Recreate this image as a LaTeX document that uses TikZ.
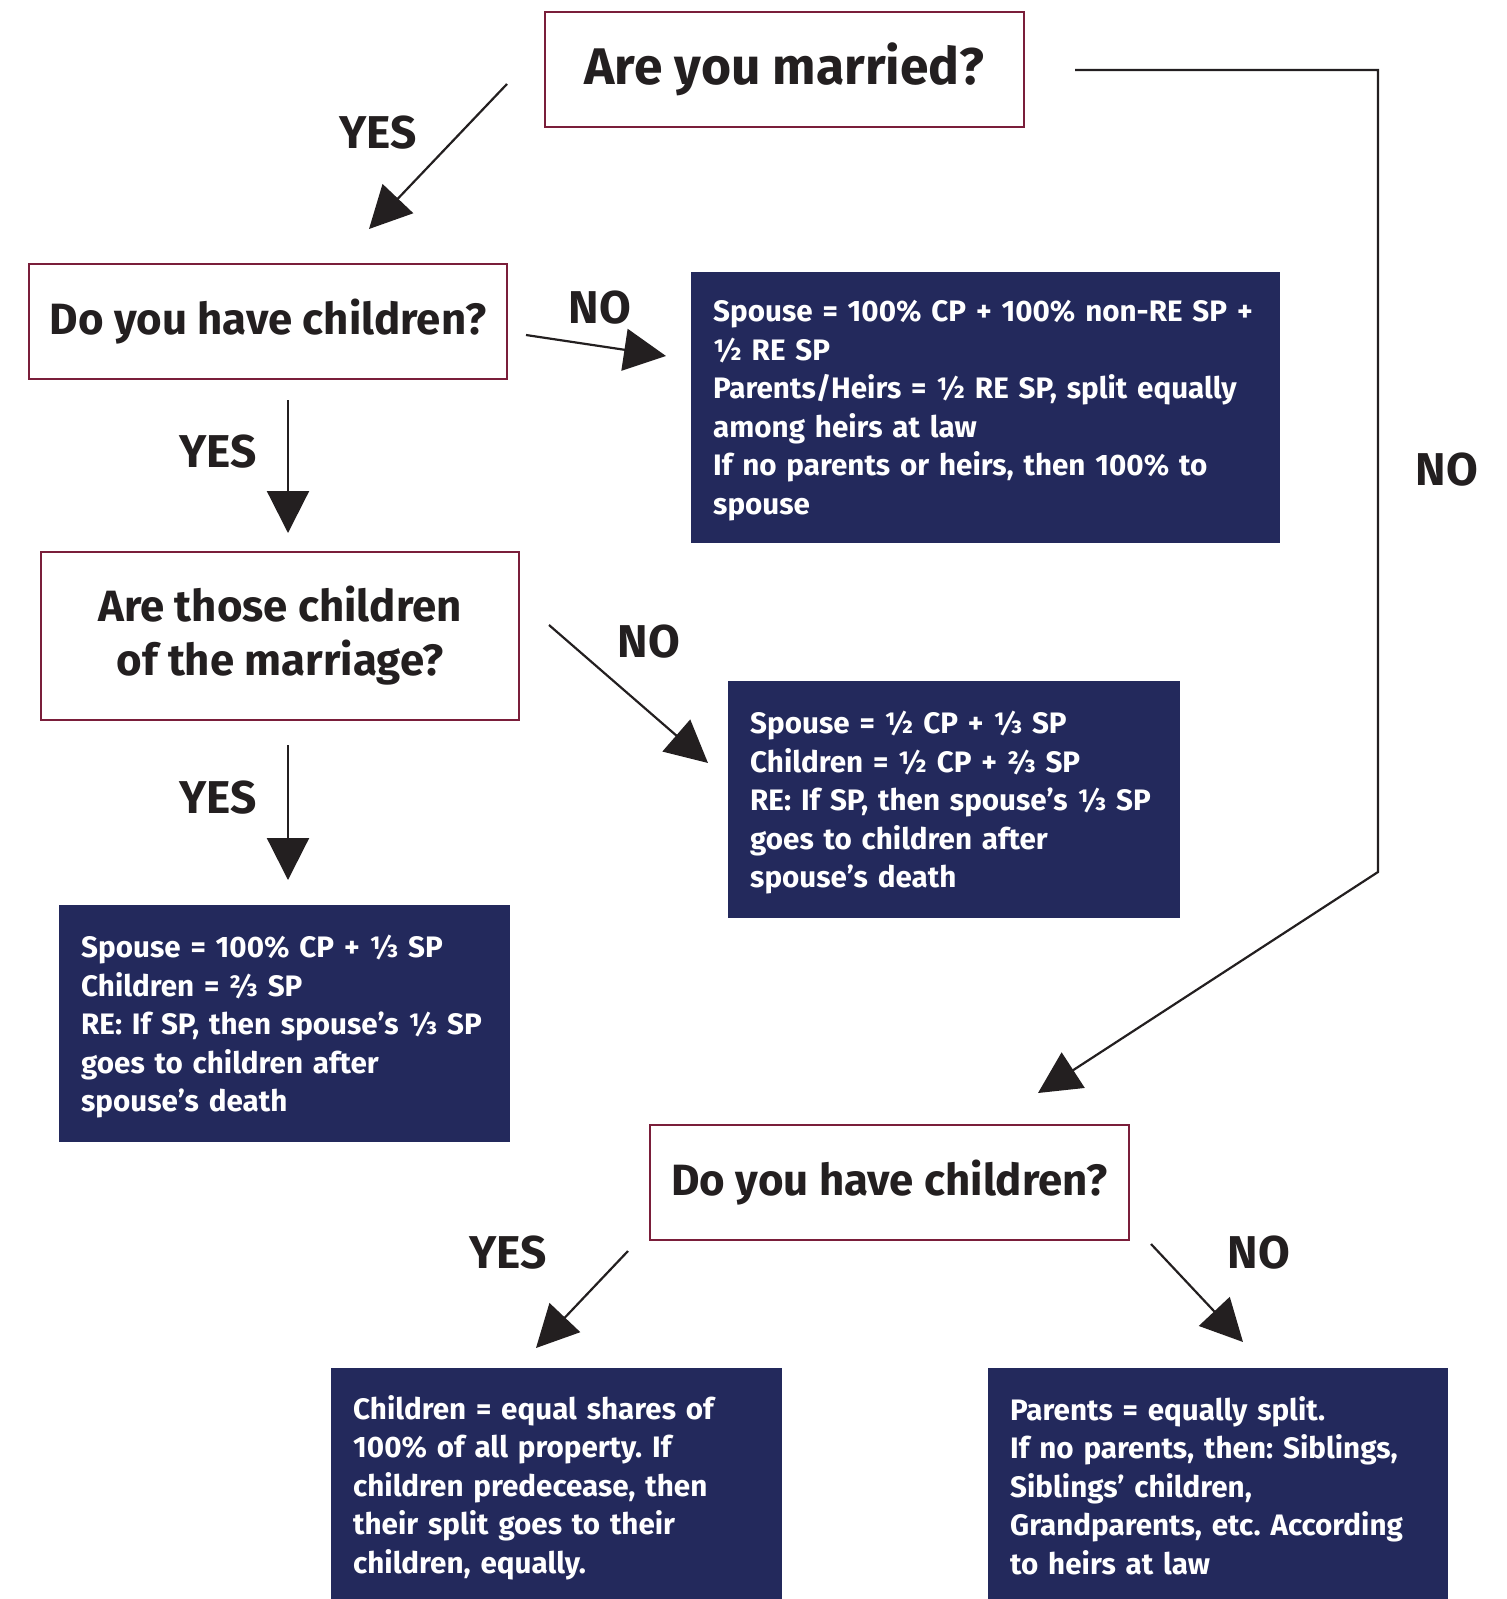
\documentclass[tikz,border=0pt]{standalone}
\usepackage{fontspec}
\setmainfont{Fira Sans}
\usetikzlibrary{arrows.meta,calc}
\definecolor{navy}{RGB}{35,41,92}
\definecolor{maroon}{RGB}{122,30,58}
\definecolor{ink}{RGB}{35,31,32}
\frenchspacing
\begin{document}
\begin{tikzpicture}[x=1pt,y=-1pt,
  qbox/.style={draw=maroon,line width=2.5pt,inner sep=0pt,align=center,text=ink,
    font=\fontsize{43.8}{54}\selectfont\bfseries},
  abox/.style={fill=navy,inner sep=0pt,anchor=north west},
  atext/.style={text=white,inner sep=0pt,align=left,
    font=\fontsize{29.6}{38.5}\selectfont\bfseries},
  lbl/.style={text=ink,font=\fontsize{46}{46}\selectfont\bfseries},
  arr/.style={draw=ink,line width=2.2pt,-{Triangle[length=42pt,width=42pt]}}]
\useasboundingbox (0,0) rectangle (1507,1599);
% question boxes
\node[qbox,minimum width=479pt,minimum height=115pt,font=\fontsize{51.5}{54}\selectfont\bfseries] (q1) at (784.5,69.5) {Are you married?};
\node[qbox,minimum width=478pt,minimum height=115pt] (q2) at (268,321.5) {Do you have children?};
\node[qbox,minimum width=478pt,minimum height=168pt] (q3) at (280,636) {Are those children\\of the marriage?};
\node[qbox,minimum width=479pt,minimum height=115pt] (q4) at (889.5,1182.5) {Do you have children?};
% answer boxes
\node[abox,minimum width=589pt,minimum height=271pt] (a) at (691,272) {};
\node[abox,minimum width=452pt,minimum height=237pt] (b) at (728,681) {};
\node[abox,minimum width=451pt,minimum height=237pt] (c) at (59,905) {};
\node[abox,minimum width=451pt,minimum height=233pt] (d) at (331,1368) {};
\node[abox,minimum width=460pt,minimum height=233pt] (e) at (988,1368) {};
\node[atext,text width=545pt] (ta) at ($(a.center)+(0,3)$) {Spouse = 100\% CP + 100\% non-RE SP +\\½ RE SP\\Parents/Heirs = ½ RE SP, split equally\\among heirs at law\\If no parents or heirs, then 100\% to\\spouse};
\node[atext,text width=408pt] (tb) at ($(b.center)+(0,3)$) {Spouse = ½ CP + ⅓ SP\\Children = ½ CP + ⅔ SP\\RE: If SP, then spouse’s ⅓ SP\\goes to children after\\spouse’s death};
\node[atext,text width=407pt] (tc) at ($(c.center)+(0,3)$) {Spouse = 100\% CP + ⅓ SP\\Children = ⅔ SP\\RE: If SP, then spouse’s ⅓ SP\\goes to children after\\spouse’s death};
\node[atext,text width=407pt] (td) at ($(d.center)+(0,3)$) {Children = equal shares of\\100\% of all property. If\\children predecease, then\\their split goes to their\\children, equally.};
\node[atext,text width=416pt] (te) at ($(e.center)+(0,1)$) {Parents = equally split.\\If no parents, then: Siblings,\\Siblings’ children,\\Grandparents, etc. According\\to heirs at law};
% connector end points
\coordinate (s1) at (507,84);   \coordinate (t1) at (369,229);
\coordinate (s2) at (526,335);  \coordinate (t2) at (666,356);
\coordinate (s3) at (288,400);  \coordinate (t3) at (288,533);
\coordinate (s4) at (549,625);  \coordinate (t4) at (708,763);
\coordinate (s5) at (288,745);  \coordinate (t5) at (288,880);
\coordinate (s6) at (1075,70);  \coordinate (k6a) at (1378,70); \coordinate (k6b) at (1378,872); \coordinate (t6) at (1038,1093);
\coordinate (s7) at (628,1251); \coordinate (t7) at (536,1348);
\coordinate (s8) at (1151,1244);\coordinate (t8) at (1243,1342);
\draw[arr] (s1) -- (t1);
\draw[arr] (s2) -- (t2);
\draw[arr] (s3) -- (t3);
\draw[arr] (s4) -- (t4);
\draw[arr] (s5) -- (t5);
\draw[arr] (s6) -- (k6a) -- (k6b) -- (t6);
\draw[arr] (s7) -- (t7);
\draw[arr] (s8) -- (t8);
% labels
\node[lbl] (l1) at (378,133) {YES};
\node[lbl] (l2) at (600,308) {NO};
\node[lbl] (l3) at (218,452) {YES};
\node[lbl] (l4) at (1447,470) {NO};
\node[lbl] (l5) at (649,642) {NO};
\node[lbl] (l6) at (218,798) {YES};
\node[lbl] (l7) at (508,1253) {YES};
\node[lbl] (l8) at (1259,1253) {NO};
\end{tikzpicture}
\end{document}
